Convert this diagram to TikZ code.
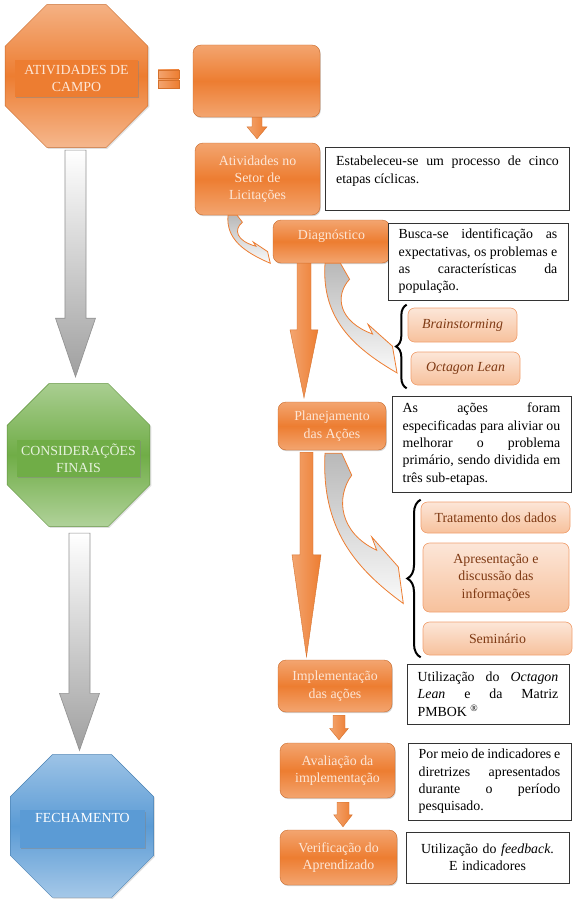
\documentclass[tikz,border=0pt]{standalone}
\usepackage{fontspec}
\setmainfont{Liberation Serif}
\usetikzlibrary{shapes.geometric, calc, decorations.pathreplacing, shadows}

\definecolor{ofOrange}{HTML}{ED7D31}
\definecolor{ofOrangeL}{HTML}{F3A570}
\definecolor{ofPeach}{HTML}{F7C19C}
\definecolor{ofPeachL}{HTML}{FCE6D8}
\definecolor{ofPeachD}{HTML}{F0A070}
\definecolor{ofBrown}{HTML}{7F3A14}
\definecolor{ofGreen}{HTML}{70AD47}
\definecolor{ofGreenT}{HTML}{E6F2DD}
\definecolor{ofBlue}{HTML}{5B9BD5}
\definecolor{boxText}{HTML}{FDE6D6}

% vertical block arrow: style, from, to, shaft half width, head half width, head length
\newcommand\blockarrow[6]{%
  \path[#1] let \p1=(#2), \p2=(#3) in
    (\x1-#4,\y1) -- (\x1+#4,\y1) -- (\x1+#4,\y2+#6) -- (\x1+#5,\y2+#6)
    -- (\x1,\y2) -- (\x1-#5,\y2+#6) -- (\x1-#4,\y2+#6) -- cycle;}

% curved arrow, tail at the top, head to the lower right
\newcommand\curvearrow[1]{%
  \begin{scope}[#1]
    \path[carrow] (0,0) -- (16.7,0) -- (26.7,22) .. controls (10,45) and (15,80) .. (51.7,97)
      -- (46.7,83.7) -- (73.3,113.7) -- (78.3,150.3) .. controls (30,115) and (-4,75) .. (0,0) -- cycle;
  \end{scope}}

\begin{document}
\begin{tikzpicture}[
    x=0.75pt, y=-0.75pt,
    font=\fontsize{10.4}{13}\selectfont,
    octa/.style={regular polygon, regular polygon sides=8, minimum size=116pt, inner sep=0pt,
      draw=#1!85!black, line width=0.3pt, top color=#1!60!white, bottom color=#1!55!white, middle color=#1,
      drop shadow={shadow xshift=1pt, shadow yshift=-1pt, opacity=0.25}},
    octlabel/.style={rectangle, fill=#1, minimum width=92pt,
      minimum height=28pt, inner sep=1pt, align=center,
      drop shadow={shadow xshift=0.8pt, shadow yshift=-0.9pt, opacity=0.45}},
    proc/.style={rectangle, rounded corners=6pt, draw=ofOrange!85!black, line width=0.3pt,
      top color=ofOrangeL, bottom color=ofOrangeL, middle color=ofOrange, text=boxText,
      align=center, inner sep=2pt,
      drop shadow={shadow xshift=0.6pt, shadow yshift=-0.9pt, opacity=0.35}},
    sub/.style={rectangle, rounded corners=5pt, draw=ofPeachD, line width=0.5pt,
      top color=ofPeachL, bottom color=ofPeach, text=ofBrown, align=center, inner sep=2pt},
    note/.style={rectangle, draw=black!80, line width=0.6pt, fill=white, inner xsep=8pt,
      inner ysep=2pt, align=justify},
    garrow/.style={draw=gray!85, line width=0.5pt, top color=white, bottom color=gray!75},
    oarrow/.style={draw=ofOrange!90!black, line width=0.3pt, left color=ofOrangeL, right color=ofOrange},
    carrow/.style={draw=ofOrange, line width=0.6pt, top color=gray!55, bottom color=gray!4},
    brace/.style={decorate, decoration={brace, amplitude=#1}, line width=1.5pt}
  ]
  \useasboundingbox (0,0) rectangle (576,917);

  % left column
  \node[octa=ofOrange] (oct1) at (76.5,76) {};
  \node[octlabel=ofOrange, text=boxText] (campo) at (76.5,78.5) {ATIVIDADES DE\\CAMPO};
  \node[octa=ofGreen] (oct2) at (78.5,455) {};
  \node[octlabel=ofGreen, text=ofGreenT] (final) at (78.5,458.5) {CONSIDERAÇÕES\\FINAIS};
  \node[octa=ofBlue] (oct3) at (82,826) {};
  \node[octlabel=ofBlue, text=white, minimum width=94pt, text height=7pt, text depth=16.7pt] (fecha) at (82.5,829) {FECHAMENTO};

  \blockarrow{garrow}{$(75.5,0 |- oct1.south)+(0,2.5)$}{$(75.5,0 |- oct2.north)+(0,-6.5)$}{7.9pt}{15pt}{44pt}
  \blockarrow{garrow}{$(79.5,0 |- oct2.south)+(0,6.5)$}{$(79.5,0 |- oct3.north)+(0,-4)$}{7.9pt}{15pt}{42.75pt}

  % equal sign
  \path[oarrow] (158,70) rectangle (179,78);
  \path[oarrow] (158,80) rectangle (179,88);

  % process steps
  \node[proc, minimum width=95.25pt, minimum height=54pt] (etapa) at (256.5,81) {};
  \node[proc, minimum width=93.75pt, minimum height=54pt] (ativ) at (257.5,179) {Atividades no\\Setor de\\Licitações};
  \node[proc, minimum width=87.75pt, minimum height=32.25pt, text height=7.5pt, text depth=10.5pt] (diag) at (331.5,241.5) {Diagnóstico};
  \node[proc, minimum width=81pt, minimum height=36pt] (plan) at (332,426) {Planejamento\\das Ações};
  \node[proc, minimum width=85.5pt, minimum height=39pt] (impl) at (335,686) {Implementação\\das ações};
  \node[proc, minimum width=86.25pt, minimum height=41.25pt] (aval) at (337.5,770.5) {Avaliação da\\implementação};
  \node[proc, minimum width=87.75pt, minimum height=41.25pt] (verif) at (338.5,857.5) {Verificação do\\Aprendizado};

  % sub-steps
  \node[sub, minimum width=81.75pt, minimum height=25.5pt] (brain) at (462.5,325) {\emph{Brainstorming}};
  \node[sub, minimum width=81.75pt, minimum height=24.75pt] (octl) at (465.5,368.5) {\emph{Octagon Lean}};
  \node[sub, minimum width=111.75pt, minimum height=23.25pt] (trat) at (495.5,517.5) {Tratamento dos dados};
  \node[sub, minimum width=109.5pt, minimum height=51.75pt] (apres) at (496,577.5) {Apresentação e\\discussão das\\informações};
  \node[sub, minimum width=111.75pt, minimum height=24.75pt] (semi) at (497.5,638.5) {Seminário};

  % notes
  \node[note, text width=167pt, minimum height=47.25pt] (n1) at (447.5,178.5)
    {Estabeleceu-se um processo de cinco\linebreak etapas cíclicas.\\\mbox{}};
  \node[note, text width=119pt, minimum height=57.75pt] (n2) at (478,261.5)
    {Busca-se identificação as\linebreak expectativas, os problemas e\linebreak as características da\linebreak população.};
  \node[note, text width=118.25pt, minimum height=72pt] (n3) at (481.5,444)
    {As ações foram\linebreak especificadas para aliviar ou\linebreak melhorar o problema\linebreak primário, sendo dividida em\linebreak três sub-etapas.};
  \node[note, text width=105.5pt, minimum height=45pt] (n4) at (488,694)
    {Utilização do \emph{Octagon}\linebreak \emph{Lean} e da Matriz\linebreak PMBOK \textsuperscript{\textregistered}};
  \node[note, text width=106.25pt, minimum height=57.75pt] (n5) at (489.5,781.5)
    {Por meio de indicadores e\linebreak diretrizes apresentados\linebreak durante o período\linebreak pesquisado.};
  \node[note, text width=106.25pt, minimum height=38.25pt, align=center] (n6) at (487.5,857.5)
    {Utilização do \emph{feedback}.\\E indicadores};

  % straight arrows
  \blockarrow{oarrow}{257,0 |- etapa.south}{$(257,0 |- ativ.north)+(0,-4)$}{3.75pt}{7.5pt}{9pt}
  \blockarrow{oarrow}{304,0 |- diag.south}{$(304,0 |- plan.north)+(0,-4)$}{5.25pt}{10.5pt}{51pt}
  \blockarrow{oarrow}{$(306.5,0 |- plan.south)+(0,2)$}{$(306.5,0 |- impl.north)+(0,-3)$}{4.9pt}{10.9pt}{76.5pt}
  \blockarrow{oarrow}{$(339,0 |- impl.south)+(0,3)$}{$(339,0 |- aval.north)+(0,-3)$}{4.5pt}{7pt}{8.5pt}
  \blockarrow{oarrow}{$(343,0 |- aval.south)+(0,4)$}{$(343,0 |- verif.north)+(0,-3)$}{4.5pt}{7pt}{9pt}

  % curved arrows
  \curvearrow{shift={($(ativ.south)+(-29.5,0)$)}, xscale=0.54, yscale=0.32}
  \curvearrow{shift={($(diag.south)+(-6.5,0)$)}, xscale=0.92, yscale=0.73}
  \curvearrow{shift={($(plan.south)+(-7,3)$)}}

  % braces
  \draw[brace=8pt] ($(brain.west |- octl.south)+(-1,3)$) -- ($(brain.north west)+(-1,-3)$);
  \draw[brace=10pt] ($(trat.west |- semi.south)+(0,2)$) -- ($(trat.north west)+(0,-2)$);
\end{tikzpicture}
\end{document}
